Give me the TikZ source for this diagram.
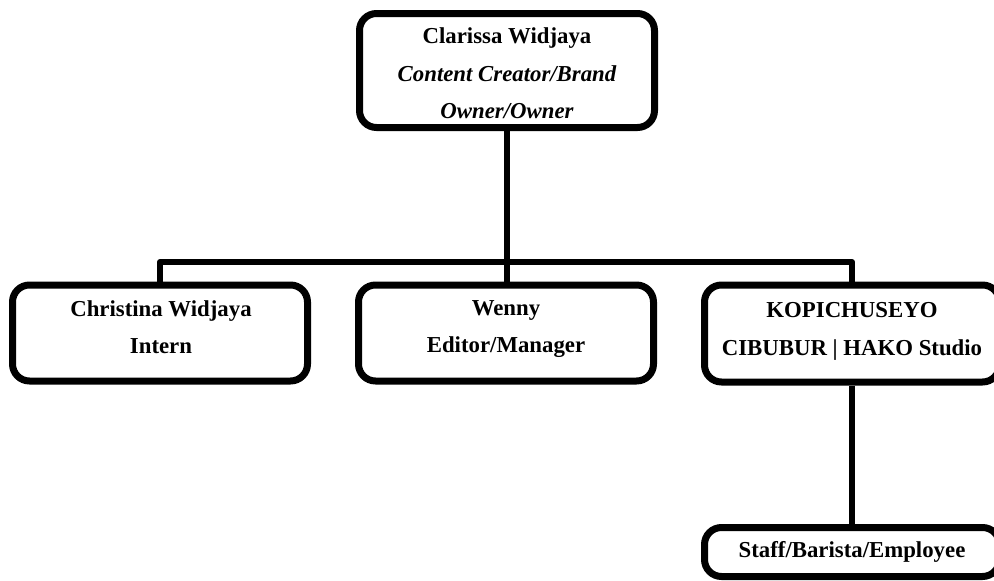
\documentclass[tikz,border=0pt]{standalone}
\usepackage{fontspec}
\setmainfont{Liberation Serif}
\begin{document}
\begin{tikzpicture}[x=1pt,y=-1pt,
  box/.style={draw=black, fill=white, rectangle, rounded corners=17pt, line width=7pt,
    minimum width=295pt, inner sep=0pt},
  txt/.style={inner sep=0pt, align=center, font=\fontsize{22.8}{37.5}\selectfont\bfseries},
  conn/.style={draw=black, line width=6pt, line join=round}]
\useasboundingbox (0,0) rectangle (994,581);
\clip (0,0) rectangle (994,581);
\coordinate (lj) at (160,262);
\coordinate (rj) at (852,262);
\coordinate (mj) at (507,262);
\node[box, minimum height=114pt] (top) at (507,70.5) {};
\node[box, minimum height=96pt] (left) at (160,333) {};
\node[box, minimum height=96pt] (mid) at (506,333) {};
\node[box, minimum height=97pt] (right) at (852,333.5) {};
\node[box, minimum height=49pt] (bot) at (852,552) {};
\node[txt] (top-t) at (507,73.5)
  {Clarissa Widjaya\\ \itshape Content Creator/Brand\\ \itshape Owner/Owner};
\node[txt] (left-t) at (161,327) {Christina Widjaya\\Intern};
\node[txt] (mid-t) at (506,329) {Wenny\\Editor/Manager};
\node[txt] (right-t) at (852,331.5) {KOPICHUSEYO\\CIBUBUR | HAKO Studio};
\node[txt] (bot-t) at (852,552) {Staff/Barista/Employee};
\draw[conn] (top.south) -- (mj);
\draw[conn] (mj) -- (mj |- mid.north);
\draw[conn] (left.north) -- (lj) -- (rj) -- (right.north);
\draw[conn] (right.south) -- (bot.north);
\end{tikzpicture}
\end{document}
